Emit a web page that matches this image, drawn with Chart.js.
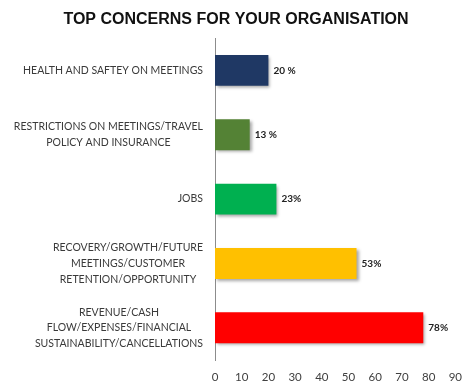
<!DOCTYPE html>
<html>
<head>
<meta charset="utf-8">
<script src="https://cdn.jsdelivr.net/npm/chart.js@4.4.1/dist/chart.umd.min.js"></script>
<style>
html, body { margin: 0; padding: 0; background: #fff; }
</style>
</head>
<body>
<canvas id="concernsChart" width="472" height="390"></canvas>
<script>
// categories (one entry per bar, lines as shown in the picture)
const categories = [
    ['HEALTH AND SAFTEY ON MEETINGS'],
    ['RESTRICTIONS ON MEETINGS/TRAVEL', 'POLICY AND INSURANCE'],
    ['JOBS'],
    ['RECOVERY/GROWTH/FUTURE', 'MEETINGS/CUSTOMER', 'RETENTION/OPPORTUNITY'],
    ['REVENUE/CASH', 'FLOW/EXPENSES/FINANCIAL', 'SUSTAINABILITY/CANCELLATIONS']
];
const percentValues = [20, 13, 23, 53, 78];
const valueLabels = ['20 %', '13 %', '23%', '53%', '78%'];
const barColors = ['#1f3864', '#548235', '#00b050', '#ffc000', '#ff0000'];
const xMin = 0;
const xMax = 90;
const xStep = 10;

// little shadow behind the bars, like the original
const barShadow = {
    id: 'barShadow',
    beforeDatasetsDraw(chart) {
        const c = chart.ctx;
        c.save();
        c.shadowColor = 'rgba(0,0,0,0.35)';
        c.shadowBlur = 3;
        c.shadowOffsetX = 2;
        c.shadowOffsetY = 2;
    },
    afterDatasetsDraw(chart) {
        chart.ctx.restore();
    }
};

// category labels: block right aligned, lines centred inside the block
const categoryLabels = {
    id: 'categoryLabels',
    afterDraw(chart) {
        const c = chart.ctx;
        const yScale = chart.scales.y;
        const right = yScale.right - 12;
        const lineH = 15.7;
        c.save();
        c.font = '10.5px Lato';
        c.fillStyle = '#3a3a3a';
        c.textAlign = 'center';
        c.textBaseline = 'middle';
        categories.forEach((lines, i) => {
            const py = yScale.getPixelForTick(i);
            const w = Math.max(...lines.map(l => c.measureText(l).width));
            const cx = right - w / 2;
            lines.forEach((l, j) => {
                c.fillText(l, cx, py + (j - (lines.length - 1) / 2) * lineH);
            });
        });
        c.restore();
    }
};

// value labels at the end of each bar
const valueText = {
    id: 'valueText',
    afterDraw(chart) {
        const c = chart.ctx;
        const meta = chart.getDatasetMeta(0);
        c.save();
        c.font = 'bold 10px Lato';
        c.fillStyle = '#222';
        c.textAlign = 'left';
        c.textBaseline = 'middle';
        meta.data.forEach((bar, i) => {
            c.fillText(valueLabels[i], bar.x + 5, bar.y);
        });
        c.restore();
    }
};

const ctx = document.getElementById('concernsChart').getContext('2d');
new Chart(ctx, {
    type: 'bar',
    data: {
        labels: categories.map(l => l.join(' ')),
        datasets: [{
            data: percentValues,
            backgroundColor: barColors,
            borderWidth: 0,
            categoryPercentage: 1,
            barPercentage: 0.48
        }]
    },
    options: {
        indexAxis: 'y',
        responsive: false,
        animation: false,
        layout: { padding: { left: 14, right: 14, top: 0, bottom: 8 } },
        plugins: {
            legend: { display: false },
            tooltip: { enabled: false },
            title: {
                display: true,
                text: 'TOP CONCERNS FOR YOUR ORGANISATION',
                color: '#111',
                font: { family: 'Liberation Sans', size: 16, weight: 'bold' },
                padding: { top: 10, bottom: 9 }
            }
        },
        scales: {
            x: {
                min: xMin,
                max: xMax,
                grid: { display: false, drawTicks: false },
                border: { display: false },
                ticks: {
                    stepSize: xStep,
                    padding: 10,
                    color: '#404040',
                    font: { family: 'Lato', size: 11.5 }
                },
                afterFit(scale) { scale.height = 22; }
            },
            y: {
                grid: { display: false, drawTicks: false },
                border: { display: true, color: '#8c8c8c', width: 1 },
                ticks: { display: false },
                afterFit(scale) { scale.width = 201; }
            }
        }
    },
    plugins: [barShadow, categoryLabels, valueText]
});
</script>
</body>
</html>
